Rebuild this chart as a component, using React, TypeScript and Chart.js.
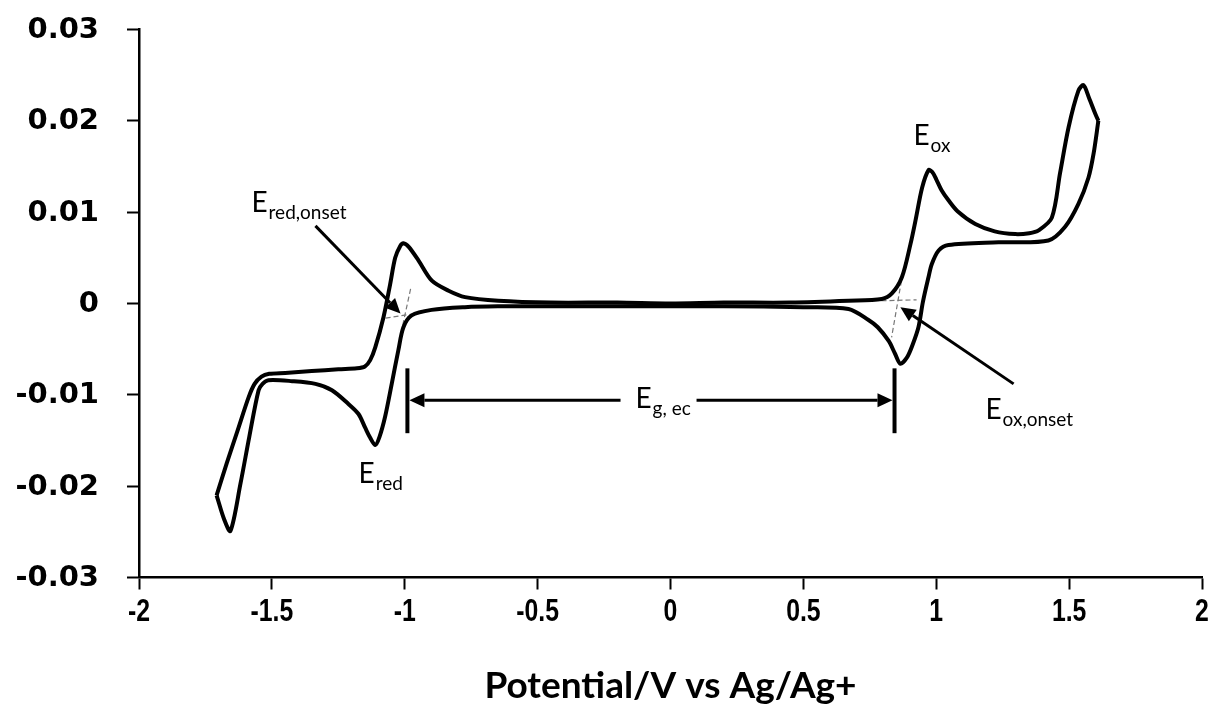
import React, { useEffect, useRef } from 'react';
import { Chart, registerables } from 'chart.js';

Chart.register(...registerables);

// Forward (anodic) sweep: from the negative vertex to the positive vertex (V, A)
const anodicPotential = [
  -1.708, -1.67, -1.63, -1.588, -1.565, -1.539, -1.51, -1.45, -1.35, -1.25, -1.18, -1.15, -1.13, -1.111,
  -1.08, -1.055, -1.036, -1.017, -1.005, -0.985, -0.948, -0.898, -0.835, -0.773, -0.648, -0.45, -0.2, 0,
  0.2, 0.45, 0.67, 0.795, 0.833, 0.871, 0.903, 0.922, 0.947, 0.971, 0.985, 1.0, 1.02, 1.046, 1.08, 1.147, 1.22,
  1.297, 1.35, 1.385, 1.435, 1.466, 1.498, 1.535, 1.554, 1.575, 1.598, 1.61,
];
const anodicCurrent = [
  -0.0210, -0.0175, -0.0140, -0.0103, -0.0088, -0.0080, -0.0077, -0.0076, -0.0074, -0.0072, -0.0071, -0.0069, -0.0062, -0.0048,
  -0.0015, 0.0021, 0.0050, 0.0063, 0.0066, 0.0062, 0.0047, 0.0025, 0.0014, 0.0007, 0.0003, 0.0001, 0.0001, 0.0000,
  0.0001, 0.0001, 0.0003, 0.0005, 0.0011, 0.0029, 0.0065, 0.0091, 0.0127, 0.0146, 0.0144, 0.0136, 0.0124, 0.0113, 0.0101, 0.0087, 0.0079,
  0.0076, 0.0077, 0.0080, 0.0094, 0.0143, 0.0193, 0.0233, 0.0239, 0.0225, 0.0208, 0.0200,
];

// Reverse (cathodic) sweep: from the positive vertex back to the negative vertex (V, A)
const cathodicPotential = [
  1.61, 1.592, 1.573, 1.535, 1.485, 1.422, 1.234, 1.046, 1.009, 0.983, 0.971, 0.95, 0.933, 0.91, 0.89,
  0.865, 0.845, 0.821, 0.78, 0.745, 0.67, 0.5, 0.2, -0.2, -0.5, -0.65, -0.774, -0.899, -0.974, -1.005,
  -1.024, -1.049, -1.074, -1.095, -1.111, -1.13, -1.149, -1.174, -1.212, -1.274, -1.336, -1.424, -1.513,
  -1.535, -1.55, -1.585, -1.618, -1.656, -1.68, -1.708,
];
const cathodicCurrent = [
  0.0200, 0.0164, 0.0138, 0.0109, 0.0084, 0.0069, 0.0067, 0.0064, 0.0058, 0.0043, 0.0029, 0.0002, -0.0026, -0.0046, -0.0059,
  -0.0066, -0.0055, -0.0041, -0.0026, -0.0018, -0.0006, -0.0004, -0.0003, -0.0003, -0.0003, -0.0003, -0.0004, -0.0007, -0.0013, -0.0026,
  -0.0051, -0.0088, -0.0124, -0.0146, -0.0155, -0.0147, -0.0136, -0.0121, -0.0110, -0.0095, -0.0088, -0.0085, -0.0084,
  -0.0088, -0.0095, -0.0146, -0.0197, -0.0249, -0.0236, -0.0210,
];

// Onset tangent construction lines (V, A)
const redBaselineV = [-1.072, -0.96];
const redBaselineI = [-0.0016, -0.0011];
const redSlopeV = [-0.978, -1.016];
const redSlopeI = [0.0016, -0.0035];
const oxBaselineV = [0.794, 0.926];
const oxBaselineI = [0.0003, 0.0004];
const oxSlopeV = [0.869, 0.832];
const oxSlopeI = [0.0025, -0.0037];

// Axis ticks
const xTickValues = [-2, -1.5, -1, -0.5, 0, 0.5, 1, 1.5, 2];
const xTickLabels = ['-2', '-1.5', '-1', '-0.5', '0', '0.5', '1', '1.5', '2'];
const yTickValues = [-0.03, -0.02, -0.01, 0, 0.01, 0.02, 0.03];
const yTickLabels = ['-0.03', '-0.02', '-0.01', '0', '0.01', '0.02', '0.03'];

// Annotation anchors (data units)
const labelNames = ['E', 'E', 'E', 'E', 'E'];
const labelSubs = ['red,onset', 'red', 'ox', 'ox,onset', 'g, ec'];
const labelV = [-1.577, -1.174, 0.914, 1.185, -0.132];
const labelI = [0.0100, -0.0197, 0.0173, -0.0126, -0.0114];
const onsetArrowFromV = [-1.336, 1.291];
const onsetArrowFromI = [0.0085, -0.0088];
const onsetArrowToV = [-1.016, 0.865];
const onsetArrowToI = [-0.0011, -0.0004];
const gapBarsV = [-0.99, 0.843];
const gapBarTopI = -0.0071;
const gapBarBottomI = -0.0142;
const gapArrowI = -0.0106;
const gapTextGapV = [-0.188, 0.098];

const toPoints = (xs: number[], ys: number[]) => xs.map((v, i) => ({ x: v, y: ys[i] }));

function drawArrow(ctx: CanvasRenderingContext2D, x1: number, y1: number, x2: number, y2: number, lw: number, headLen: number, headHalf: number) {
  const ang = Math.atan2(y2 - y1, x2 - x1);
  const bx = x2 - headLen * Math.cos(ang);
  const by = y2 - headLen * Math.sin(ang);
  ctx.lineWidth = lw;
  ctx.beginPath();
  ctx.moveTo(x1, y1);
  ctx.lineTo(bx, by);
  ctx.stroke();
  ctx.beginPath();
  ctx.moveTo(x2, y2);
  ctx.lineTo(bx + headHalf * Math.sin(ang), by - headHalf * Math.cos(ang));
  ctx.lineTo(bx - headHalf * Math.sin(ang), by + headHalf * Math.cos(ang));
  ctx.closePath();
  ctx.fill();
}

const annotationPlugin = {
  id: 'cvAnnotations',
  afterDatasetsDraw(chart: any) {
    const { ctx } = chart;
    const xs = chart.scales.x;
    const ys = chart.scales.y;
    const px = (v: number) => xs.getPixelForValue(v);
    const py = (v: number) => ys.getPixelForValue(v);
    ctx.save();
    ctx.strokeStyle = '#000';
    ctx.fillStyle = '#000';
    ctx.lineCap = 'butt';

    // onset arrows
    for (let i = 0; i < onsetArrowFromV.length; i++) {
      drawArrow(ctx, px(onsetArrowFromV[i]), py(onsetArrowFromI[i]), px(onsetArrowToV[i]), py(onsetArrowToI[i]), 3, 15, 7);
    }

    // electrochemical gap bars
    ctx.lineWidth = 4;
    for (const v of gapBarsV) {
      ctx.beginPath();
      ctx.moveTo(px(v), py(gapBarTopI));
      ctx.lineTo(px(v), py(gapBarBottomI));
      ctx.stroke();
    }
    const ay = py(gapArrowI);
    drawArrow(ctx, px(gapTextGapV[0]), ay, px(gapBarsV[0]) + 2, ay, 3, 15, 7);
    drawArrow(ctx, px(gapTextGapV[1]), ay, px(gapBarsV[1]) - 2, ay, 3, 15, 7);

    // labels with subscripts
    ctx.textBaseline = 'alphabetic';
    ctx.textAlign = 'left';
    for (let i = 0; i < labelNames.length; i++) {
      const x = px(labelV[i]);
      const y = py(labelI[i]);
      ctx.font = '28px Lato, "Open Sans", sans-serif';
      ctx.fillText(labelNames[i], x, y);
      const w = ctx.measureText(labelNames[i]).width;
      ctx.font = '19px Lato, "Open Sans", sans-serif';
      ctx.fillText(labelSubs[i], x + w + 1, y + 7);
    }

    // x tick labels (narrow bold face)
    ctx.font = 'bold 31px "Liberation Sans", Arial, sans-serif';
    ctx.textAlign = 'center';
    ctx.textBaseline = 'middle';
    const labelY = chart.chartArea.bottom + 35;
    for (let i = 0; i < xTickValues.length; i++) {
      ctx.save();
      ctx.translate(px(xTickValues[i]), labelY);
      ctx.scale(0.8, 1);
      ctx.fillText(xTickLabels[i], 0, 0);
      ctx.restore();
    }

    // y tick labels (wide bold face)
    ctx.font = 'bold 29px "DejaVu Sans", Verdana, sans-serif';
    ctx.textAlign = 'right';
    ctx.textBaseline = 'middle';
    const labelX = chart.chartArea.left - 40;
    for (let i = 0; i < yTickValues.length; i++) {
      ctx.fillText(yTickLabels[i], labelX, py(yTickValues[i]) + 1);
    }
    ctx.restore();
  },
};

export default function App() {
  const canvasRef = useRef<HTMLCanvasElement | null>(null);

  useEffect(() => {
    document.body.style.margin = '0';
    const canvas = canvasRef.current;
    if (!canvas) return;
    const curveStyle = {
      showLine: true,
      borderColor: '#000',
      borderWidth: 4,
      pointRadius: 0,
      tension: 0.3,
      fill: false,
    };
    const dashStyle = {
      showLine: true,
      borderColor: '#777',
      borderWidth: 1.2,
      borderDash: [5, 3],
      pointRadius: 0,
      tension: 0,
      fill: false,
    };
    const chart = new Chart(canvas, {
      type: 'scatter',
      data: {
        datasets: [
          { label: 'Anodic sweep', data: toPoints(anodicPotential, anodicCurrent), ...curveStyle },
          { label: 'Cathodic sweep', data: toPoints(cathodicPotential, cathodicCurrent), ...curveStyle },
          { label: 'red baseline', data: toPoints(redBaselineV, redBaselineI), ...dashStyle },
          { label: 'red slope', data: toPoints(redSlopeV, redSlopeI), ...dashStyle },
          { label: 'ox baseline', data: toPoints(oxBaselineV, oxBaselineI), ...dashStyle },
          { label: 'ox slope', data: toPoints(oxSlopeV, oxSlopeI), ...dashStyle },
        ],
      },
      options: {
        animation: false,
        responsive: true,
        maintainAspectRatio: false,
        layout: { padding: { top: 29.5, right: 20, left: 0, bottom: 0 } },
        plugins: { legend: { display: false }, tooltip: { enabled: false } },
        scales: {
          x: {
            type: 'linear',
            position: 'bottom',
            min: -2,
            max: 2,
            afterBuildTicks: (s: any) => { s.ticks = xTickValues.map((value) => ({ value })); },
            afterFit: (s: any) => { s.height = 131.5; },
            grid: { drawOnChartArea: false, drawTicks: true, tickLength: 12, tickWidth: 2, tickColor: '#000' },
            border: { display: true, color: '#000', width: 2.5 },
            ticks: { display: false },
            title: {
              display: true,
              text: 'Potential/V vs Ag/Ag+',
              color: '#000',
              font: { family: 'Lato, "Open Sans", sans-serif', size: 37, weight: 'bold' },
              padding: { top: 0, bottom: 1 },
            },
          },
          y: {
            type: 'linear',
            min: -0.03,
            max: 0.03,
            afterBuildTicks: (s: any) => { s.ticks = yTickValues.map((value) => ({ value })); },
            afterFit: (s: any) => { s.width = 139; },
            grid: { drawOnChartArea: false, drawTicks: true, tickLength: 12, tickWidth: 2, tickColor: '#000' },
            border: { display: true, color: '#000', width: 2.5 },
            ticks: { display: false },
          },
        },
      },
      plugins: [annotationPlugin],
    } as any);
    return () => chart.destroy();
  }, []);

  return (
    <div style={{ position: 'relative', width: 1222, height: 709 }}>
      <canvas ref={canvasRef} />
    </div>
  );
}
